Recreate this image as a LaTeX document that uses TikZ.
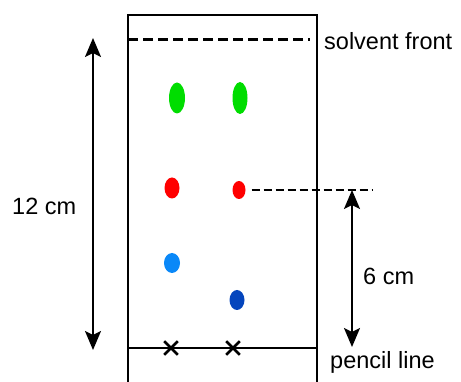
\documentclass[tikz,border=0pt]{standalone}
\usepackage{fontspec}
\setmainfont{Liberation Sans}
\usetikzlibrary{arrows.meta,shapes.geometric,shapes.misc}
\definecolor{spotgreen}{HTML}{00DD00}
\definecolor{spotred}{HTML}{FF0000}
\definecolor{spotcyan}{HTML}{0A88F8}
\definecolor{spotblue}{HTML}{0445BD}
\tikzset {
  >={Stealth[length=19pt,width=16pt,inset=4pt]},
  every node/.style={font=\fontsize{23.5}{28}\selectfont},
  label/.style={anchor=base west,inner sep=0pt},
  spot/.style={ellipse,inner sep=0pt},
  xmark/.style={cross out,draw,line width=2.6pt,minimum size=11pt,inner sep=0pt},
}

\begin{document}
\begin{tikzpicture}[x=1pt,y=-1pt]
          \useasboundingbox (0,0) rectangle (461,382);
          % paper strip
          \draw[line width=1.8pt] (128,382) -- (128,15) -- (317,15) -- (317,382);
          \coordinate (sf1) at (128,40);
          \coordinate (sf2) at (310,40);
          \coordinate (pl1) at (127,348);
          \coordinate (pl2) at (316,348);
          \draw[line width=3pt,dash pattern=on 10pt off 5pt] (sf1) -- (sf2);
          \draw[line width=1.3pt] (pl1) -- (pl2);
          \node[label] (sftext) at (324,50) {solvent front};
          \node[label] (pltext) at (330,368) {pencil line};
          % spots
          \node[spot,fill=spotgreen,minimum width=16pt,minimum height=31pt] (g1) at (177,98) {};
          \node[spot,fill=spotgreen,minimum width=15pt,minimum height=32pt] (g2) at (240,98) {};
          \node[spot,fill=spotred,minimum width=15pt,minimum height=21pt] (r1) at (172,188) {};
          \node[spot,fill=spotred,minimum width=13pt,minimum height=18pt] (r2) at (239,190) {};
          \node[spot,fill=spotcyan,minimum width=16pt,minimum height=20pt] (c1) at (172,263) {};
          \node[spot,fill=spotblue,minimum width=15pt,minimum height=20pt] (b2) at (237,300) {};
          \node[xmark] (x1) at (171,348) {};
          \node[xmark] (x2) at (233,348) {};
          % distances
          \coordinate (rf) at (373,190);
          \coordinate (a6t) at (352,190);
          \coordinate (a6b) at (352,347);
          \coordinate (a12t) at (93,38);
          \coordinate (a12b) at (93,350);
          \draw[line width=1.3pt,dash pattern=on 8pt off 4pt,shorten <=6pt] (r2.east) -- (rf);
          \draw[<->,line width=2pt] (a6t) -- (a6b);
          \draw[<->,line width=2pt] (a12t) -- (a12b);
          \node[label] (l6) at (363,285) {6 cm};
          \node[label] (l12) at (12,215) {12 cm};
        \end{tikzpicture}
\end{document}
